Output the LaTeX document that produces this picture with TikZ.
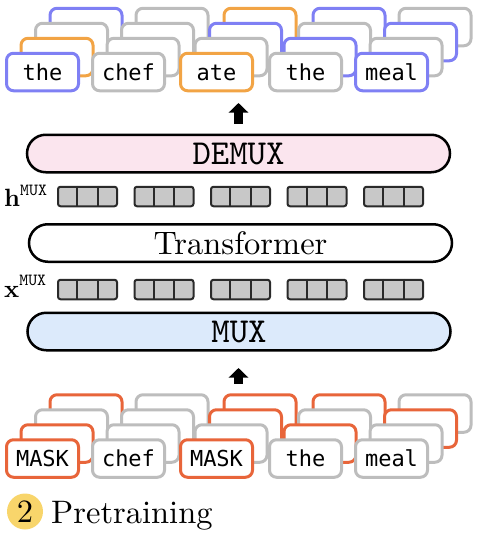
\documentclass[tikz,border=0pt]{standalone}
\usepackage{fontspec}
\newfontfamily\tokfont{DejaVu Sans Mono}
\newfontfamily\lmten{lmroman10-regular.otf}[BoldFont=lmroman10-bold.otf]
\newfontfamily\lmtt{lmmono10-regular.otf}
\usetikzlibrary{arrows.meta,calc}
\definecolor{tblue}{HTML}{7F80F4}
\definecolor{torange}{HTML}{F2A445}
\definecolor{tred}{HTML}{E8653A}
\definecolor{tgray}{HTML}{BDBDBD}
\definecolor{cellfill}{HTML}{C8C8C8}
\definecolor{cellline}{HTML}{2A2A2A}
\definecolor{pinkfill}{HTML}{FBE5EE}
\definecolor{bluefill}{HTML}{DCEAFB}
\definecolor{yellowc}{HTML}{F8D56B}
\colorlet{B}{tblue}
\colorlet{O}{torange}
\colorlet{R}{tred}
\colorlet{G}{tgray}
\begin{document}
\begin{tikzpicture}[x=1pt,y=-1pt,
  tok/.style={draw, fill=white, line width=3pt, rounded corners=7pt,
    minimum width=72pt, minimum height=37.5pt, inner sep=0pt,
    font=\tokfont\fontsize{22}{22}\selectfont, text height=16pt, text depth=0pt},
  pill/.style={draw=black, line width=2.5pt, rounded corners=18.75pt,
    minimum width=423pt, minimum height=37.5pt, inner sep=0pt},
  pilltt/.style={font=\lmtt\fontsize{35}{35}\selectfont},
  cellgrp/.style={draw=cellline, fill=cellfill, line width=2pt, rounded corners=2.5pt,
    minimum width=59pt, minimum height=19.5pt, inner sep=0pt},
  divider/.style={draw=cellline, line width=2pt},
  fatarrow/.style={line width=8.5pt, -{Triangle[width=19pt,length=9.5pt]}},
  lab/.style={anchor=base west, inner sep=0pt}
]
\useasboundingbox (0,0) rectangle (480,536);

% ---------- top token stacks ----------
\foreach \s/\cx/\cd in {1/42.5/B, 2/128.5/G, 3/216.5/O, 4/305.5/B, 5/391.5/G}{
  \node[tok, draw=\cd] (top-\s-3) at (\cx+43.5, 27) {};
}
\foreach \s/\cx/\cc in {1/42.5/G, 2/128.5/G, 3/216.5/B, 4/305.5/G, 5/391.5/B}{
  \node[tok, draw=\cc] (top-\s-2) at (\cx+29, 42) {};
}
\foreach \s/\cx/\cb in {1/42.5/O, 2/128.5/G, 3/216.5/G, 4/305.5/B, 5/391.5/G}{
  \node[tok, draw=\cb] (top-\s-1) at (\cx+14.5, 57) {};
}
\foreach \s/\cx/\ca/\w in {1/42.5/B/the, 2/128.5/G/chef, 3/216.5/O/ate, 4/305.5/G/the, 5/391.5/B/meal}{
  \node[tok, draw=\ca] (top-\s-0) at (\cx, 72) {\w};
}

% ---------- bottom token stacks ----------
\foreach \s/\cx/\cd in {1/42.5/R, 2/128.5/G, 3/216.5/R, 4/305.5/R, 5/391.5/G}{
  \node[tok, draw=\cd] (bot-\s-3) at (\cx+43.5, 413.5) {};
}
\foreach \s/\cx/\cc in {1/42.5/G, 2/128.5/G, 3/216.5/R, 4/305.5/G, 5/391.5/R}{
  \node[tok, draw=\cc] (bot-\s-2) at (\cx+29, 428.5) {};
}
\foreach \s/\cx/\cb in {1/42.5/R, 2/128.5/G, 3/216.5/G, 4/305.5/R, 5/391.5/G}{
  \node[tok, draw=\cb] (bot-\s-1) at (\cx+14.5, 443.5) {};
}
\foreach \s/\cx/\ca/\w in {1/42.5/R/MASK, 2/128.5/G/chef, 3/216.5/R/MASK, 4/305.5/G/the, 5/391.5/G/meal}{
  \node[tok, draw=\ca] (bot-\s-0) at (\cx, 458.5) {\w};
}

% ---------- arrows ----------
\coordinate (atS) at (238.5,123.5);
\coordinate (atE) at (238.5,103);
\draw[fatarrow] (atS) -- (atE);
\coordinate (abS) at (238.5,383.5);
\coordinate (abE) at (238.5,368);
\draw[fatarrow] (abS) -- (abE);

% ---------- pills ----------
\node[pill, fill=pinkfill, pilltt] (demux) at (238.5,153.5) {DEMUX};
\node[pill, fill=white, font=\lmten\fontsize{32.5}{32.5}\selectfont] (trans) at (240.5,243) {Transformer};
\node[pill, fill=bluefill, pilltt] (mux) at (239,331.5) {MUX};

% ---------- cell rows ----------
\foreach \i in {0,...,4}{
  \node[cellgrp] (h\i) at (87.5+76.5*\i,196.5) {};
  \draw[divider] ($(h\i.north west)!1/3!(h\i.north east)$) -- ($(h\i.south west)!1/3!(h\i.south east)$);
  \draw[divider] ($(h\i.north west)!2/3!(h\i.north east)$) -- ($(h\i.south west)!2/3!(h\i.south east)$);
  \node[cellgrp] (x\i) at (87.5+76.5*\i,289.5) {};
  \draw[divider] ($(x\i.north west)!1/3!(x\i.north east)$) -- ($(x\i.south west)!1/3!(x\i.south east)$);
  \draw[divider] ($(x\i.north west)!2/3!(x\i.north east)$) -- ($(x\i.south west)!2/3!(x\i.south east)$);
}

% ---------- row labels ----------
\node[lab, font=\lmten\fontsize{25}{25}\selectfont] (hlab) at (4,206.5) {\bfseries h\raisebox{11.5pt}{\lmtt\fontsize{17}{17}\selectfont MUX}};
\node[lab, font=\lmten\fontsize{25}{25}\selectfont] (xlab) at (4,297) {\bfseries x\raisebox{12pt}{\lmtt\fontsize{17}{17}\selectfont MUX}};

% ---------- caption ----------
\node[circle, fill=yellowc, minimum size=36pt, inner sep=0pt, font=\lmten\fontsize{32.5}{32.5}\selectfont] (num) at (25,511.5) {2};
\node[lab, font=\lmten\fontsize{32.5}{32.5}\selectfont] (cap) at (51,523) {Pretraining};
\end{tikzpicture}
\end{document}
